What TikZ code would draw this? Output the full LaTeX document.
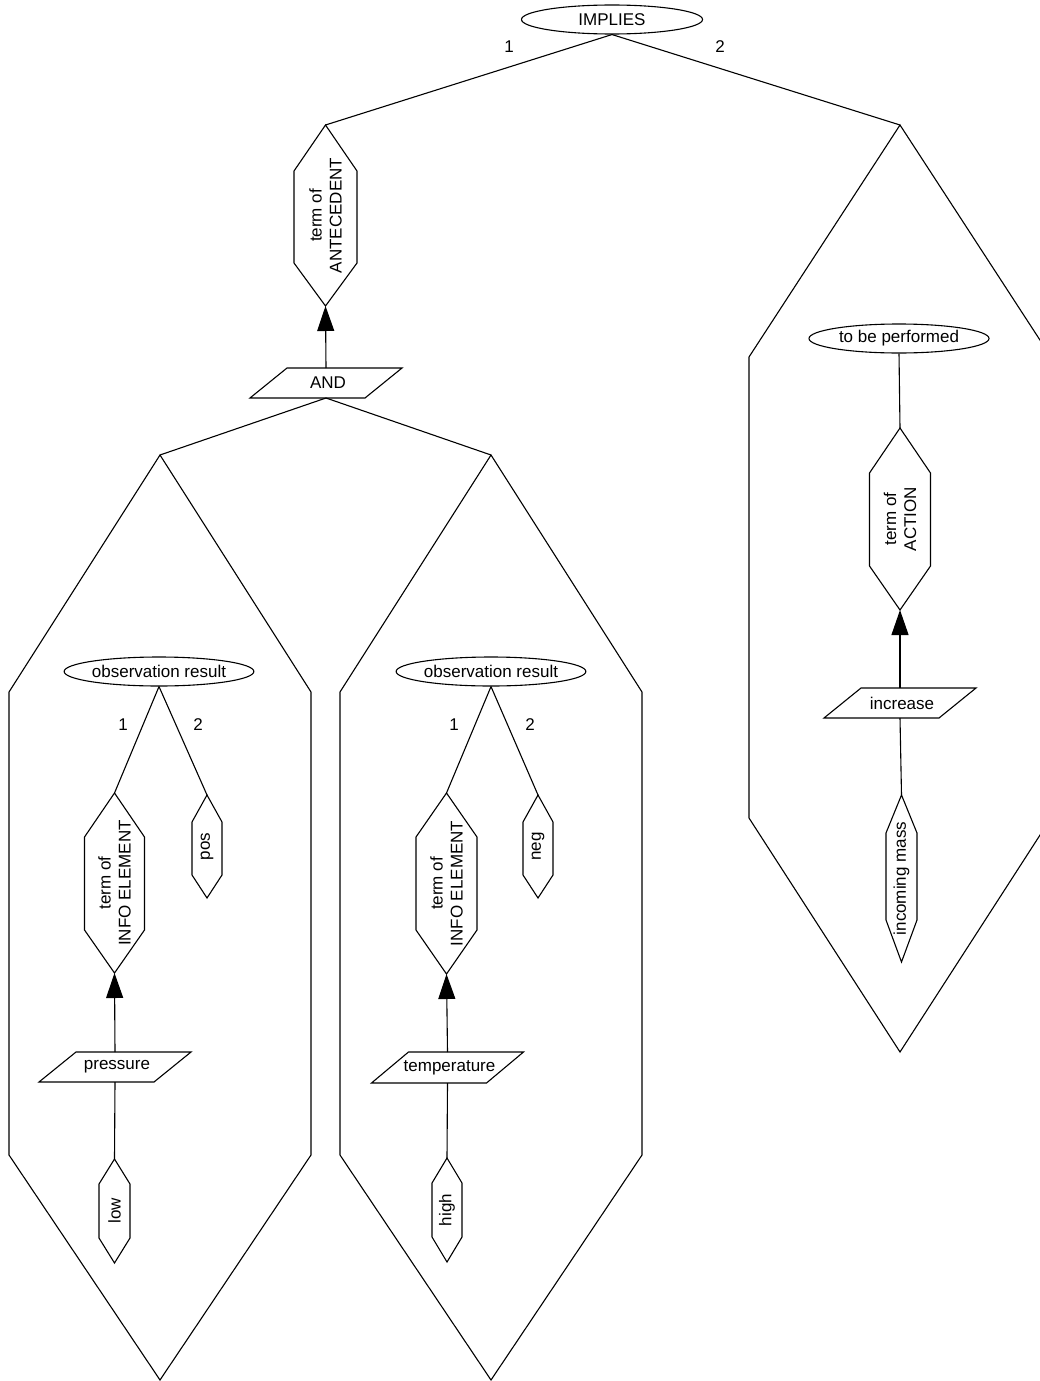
\documentclass[tikz,border=0pt]{standalone}
\usepackage{fontspec}
\setmainfont{Liberation Sans}
\usetikzlibrary{shapes.geometric,arrows.meta}
\tikzset{
  shp/.style={draw=black,line width=1.1pt,line join=miter},
  conn/.style={draw=black,line width=1.1pt},
  arr/.style={conn,-{Triangle[length=25pt,width=17pt]}},
  oval/.style={draw=black,line width=1.1pt,ellipse,minimum width=181pt,minimum height=29pt,inner sep=0pt,font=\fontsize{17}{20}\selectfont},
  rtext/.style={rotate=90,align=center,inner sep=0pt,font=\fontsize{17}{20}\selectfont},
  ptext/.style={inner sep=0pt,font=\fontsize{17}{20}\selectfont},
  lbl/.style={inner sep=0pt,font=\fontsize{17}{20}\selectfont}
}
% name, cx, ytop, yslant1, yslant2, ybot, halfwidth, text
\newcommand\hexshape[8]{%
  \draw[shp] (#2,#3) coordinate (#1-t) -- ({#2+#7},#4) -- ({#2+#7},#5) -- (#2,#6) coordinate (#1-b) -- ({#2-#7},#5) -- ({#2-#7},#4) -- cycle;
  \node[rtext] (#1) at (#2,{(#3+#6)/2}) {#8};}
% name, cx, ytop, ybot, text
\newcommand\parashape[5]{%
  \draw[shp] ({#2-39},#3) -- ({#2+76},#3) -- ({#2+39},#4) -- ({#2-76},#4) -- cycle;
  \coordinate (#1-t) at (#2,#3);
  \coordinate (#1-b) at (#2,#4);
  \node[ptext] (#1) at ({#2+2},{(#3+#4)/2}) {#5};}
% name, cx, ytop, yslant1, yslant2, ybot, halfwidth
\newcommand\bighex[7]{%
  \draw[shp] (#2,#3) coordinate (#1-t) -- ({#2+#7},#4) -- ({#2+#7},#5) -- (#2,#6) coordinate (#1-b) -- ({#2-#7},#5) -- ({#2-#7},#4) -- cycle;}
\begin{document}
\begin{tikzpicture}[x=1pt,y=-1pt]
\useasboundingbox (0,0) rectangle (1040,1381);
\clip (0,0) rectangle (1040,1381);

% top
\node[oval] (implies) at (612,19.5) {IMPLIES};
\bighex{ctxR}{900}{125}{357}{818}{1052}{151}
\hexshape{ante}{325.5}{125}{171}{263}{306}{31.5}{term of\\ANTECEDENT}
\draw[conn] (implies.south) -- (ante-t);
\draw[conn] (implies.south) -- (ctxR-t);
\node[lbl] (l1) at (509,47) {1};
\node[lbl] (l2) at (720,47) {2};

% AND
\parashape{and}{326}{368}{398}{AND}
\draw[arr] (and-t) -- (ante-b);
\bighex{ctxA}{160}{455}{692}{1155}{1380}{151}
\bighex{ctxB}{491}{455}{692}{1155}{1380}{151}
\draw[conn] (and-b) -- (ctxA-t);
\draw[conn] (and-b) -- (ctxB-t);

% right context
\node[oval,minimum width=180pt] (perf) at (899,338.5) {to be performed};
\hexshape{action}{900}{428}{473}{566}{610}{30.5}{term of\\ACTION}
\draw[conn] (perf.south) -- (action-t);
\parashape{incr}{900}{688}{718}{increase}
\draw[arr] (incr-t) -- (action-b);
\hexshape{mass}{901.5}{795}{833}{920}{962}{15.5}{incoming mass}
\draw[conn] (incr-b) -- (mass-t);

% left context A
\node[oval,minimum width=180pt] (obsA) at (159,671.5) {observation result};
\hexshape{infoA}{114.5}{793}{837}{930}{973}{30}{term of\\INFO ELEMENT}
\hexshape{pos}{207}{795}{822}{875}{898}{15}{pos}
\draw[conn] (obsA.south) -- (infoA-t);
\draw[conn] (obsA.south) -- (pos-t);
\node[lbl] (a1) at (123,725) {1};
\node[lbl] (a2) at (198,725) {2};
\parashape{press}{115}{1052}{1082}{pressure}
\draw[arr] (press-t) -- (infoA-b);
\hexshape{low}{114.5}{1159}{1184}{1238}{1263}{15.5}{low}
\draw[conn] (press-b) -- (low-t);

% left context B
\node[oval,minimum width=180pt] (obsB) at (491,671.5) {observation result};
\hexshape{infoB}{446.5}{793}{837}{930}{974}{30.5}{term of\\INFO ELEMENT}
\hexshape{neg}{538}{795}{822}{875}{898}{15}{neg}
\draw[conn] (obsB.south) -- (infoB-t);
\draw[conn] (obsB.south) -- (neg-t);
\node[lbl] (b1) at (454,725) {1};
\node[lbl] (b2) at (530,725) {2};
\parashape{temp}{447.5}{1052}{1083}{temperature}
\draw[arr] (temp-t) -- (infoB-b);
\hexshape{high}{447}{1158}{1183}{1237}{1262}{15}{high}
\draw[conn] (temp-b) -- (high-t);
\end{tikzpicture}
\end{document}
